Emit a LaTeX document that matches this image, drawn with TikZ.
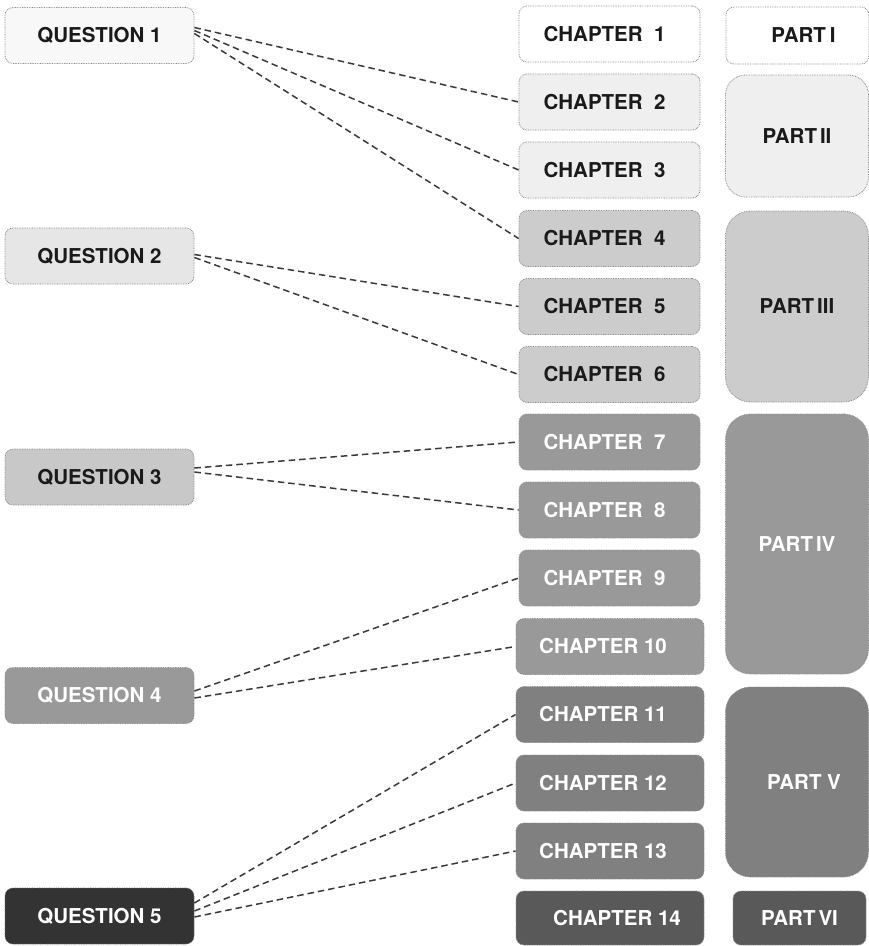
\documentclass[tikz,border=0pt]{standalone}
\usepackage{fontspec}
\setmainfont{TeX Gyre Heros}
\definecolor{tone0}{HTML}{FFFFFF}
\definecolor{toneq1}{HTML}{F8F8F8}
\definecolor{tone1}{HTML}{EEEFEE}
\definecolor{toneq2}{HTML}{E6E6E6}
\definecolor{tone2}{HTML}{CCCCCC}
\definecolor{toneq3}{HTML}{C8C8C8}
\definecolor{tone3}{HTML}{999999}
\definecolor{tone4}{HTML}{808080}
\definecolor{tone5}{HTML}{595959}
\definecolor{toneq5}{HTML}{333333}
\definecolor{rim}{HTML}{8C8C8C}
\definecolor{ink}{HTML}{1A1A1A}
\definecolor{wire}{HTML}{3A3A3A}
\tikzset{
  card/.style={rectangle, rounded corners=8pt, draw=rim, line width=0.8pt,
    dash pattern=on 0.8pt off 0.9pt, minimum height=56pt, inner sep=0pt,
    font=\bfseries\fontsize{20.5}{24}\selectfont, text=ink},
  lighttext/.style={text=white},
  qbox/.style={card, minimum width=189pt},
  chbox/.style={card, minimum width=181pt},
  chwide/.style={card, minimum width=188pt},
  partbox/.style={card, minimum width=143pt, rounded corners=#1},
  partbox/.default=25pt,
  link/.style={draw=wire, line width=1.5pt, dash pattern=on 6.5pt off 4pt},
}
\begin{document}
\begin{tikzpicture}[x=1pt,y=-1pt]
\useasboundingbox (0,0) rectangle (869,946);

% questions
\node[qbox, fill=toneq1] (q1) at (99.5,35.5) {QUESTION 1};
\node[qbox, fill=toneq2] (q2) at (99.5,256) {QUESTION 2};
\node[qbox, fill=toneq3] (q3) at (99.5,477) {QUESTION 3};
\node[qbox, fill=tone3, lighttext] (q4) at (99.5,695.5) {QUESTION 4};
\node[qbox, fill=toneq5, lighttext, draw=black!60] (q5) at (99.5,916) {QUESTION 5};

% chapters
\node[chbox, fill=tone0] (c1) at (609.5,34) {\hspace{-10pt}CHAPTER~~1};
\node[chbox, fill=tone1] (c2) at (609.5,102) {\hspace{-10pt}CHAPTER~~2};
\node[chbox, fill=tone1] (c3) at (609.5,170) {\hspace{-10pt}CHAPTER~~3};
\node[chbox, fill=tone2] (c4) at (609.5,238.5) {\hspace{-10pt}CHAPTER~~4};
\node[chbox, fill=tone2] (c5) at (609.5,306.5) {\hspace{-10pt}CHAPTER~~5};
\node[chbox, fill=tone2] (c6) at (609.5,374.5) {\hspace{-10pt}CHAPTER~~6};
\node[chbox, fill=tone3, lighttext] (c7) at (609.5,442) {\hspace{-10pt}CHAPTER~~7};
\node[chbox, fill=tone3, lighttext] (c8) at (609.5,510) {\hspace{-10pt}CHAPTER~~8};
\node[chbox, fill=tone3, lighttext] (c9) at (609.5,578) {\hspace{-10pt}CHAPTER~~9};
\node[chwide, fill=tone3, lighttext] (c10) at (610,646.5) {\hspace{-14pt}CHAPTER 10};
\node[chwide, fill=tone4, lighttext] (c11) at (610,714.5) {\hspace{-14pt}CHAPTER 11};
\node[chwide, fill=tone4, lighttext] (c12) at (610,783) {\hspace{-14pt}CHAPTER 12};
\node[chwide, fill=tone4, lighttext] (c13) at (610,851) {\hspace{-14pt}CHAPTER 13};
\node[chwide, fill=tone5, lighttext, minimum height=54pt] (c14) at (610,918)
  {\hspace{14pt}CHAPTER 14};

% parts
\node[partbox=8pt, fill=tone0, minimum height=57pt] (p1) at (797.5,35.5)
  {\hspace{12pt}PART\kern4pt I};
\node[partbox=20pt, fill=tone1, minimum height=122pt] (p2) at (797,136) {PART\kern3pt II};
\node[partbox, fill=tone2, minimum height=191pt] (p3) at (797,306.5) {PART\kern3pt III};
\node[partbox, fill=tone3, lighttext, minimum height=260pt] (p4) at (797,544) {PART\kern3pt IV};
\node[partbox, fill=tone4, lighttext, minimum height=190pt] (p5) at (797,782)
  {\hspace{14pt}PART V};
\node[partbox=8pt, fill=tone5, lighttext, minimum height=54pt, minimum width=133pt] (p6)
  at (799.5,918) {PART\kern3pt VI};

% question-to-chapter links
\draw[link] ([yshift=8pt]q1.east) -- (c2.west);
\draw[link] ([yshift=5pt]q1.east) -- (c3.west);
\draw[link] ([yshift=2pt]q1.east) -- (c4.west);
\draw[link] ([yshift=1.5pt]q2.east) -- (c5.west);
\draw[link] ([yshift=-1.5pt]q2.east) -- (c6.west);
\draw[link] ([yshift=9pt]q3.east) -- (c7.west);
\draw[link] ([yshift=5pt]q3.east) -- (c8.west);
\draw[link] ([yshift=4.5pt]q4.east) -- (c9.west);
\draw[link] ([yshift=-2.5pt]q4.east) -- (c10.west);
\draw[link] ([yshift=13pt]q5.east) -- (c11.west);
\draw[link] ([yshift=5pt]q5.east) -- (c12.west);
\draw[link] ([yshift=-1pt]q5.east) -- (c13.west);
\end{tikzpicture}
\end{document}
